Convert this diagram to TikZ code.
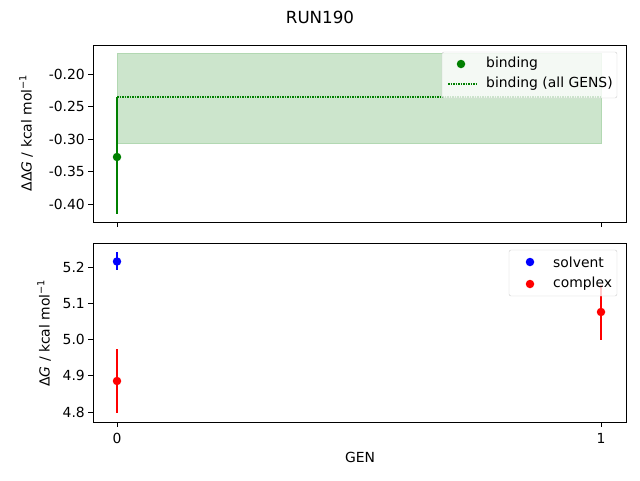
\documentclass[tikz,border=0pt]{standalone}
\usepackage{fontspec}
\setmainfont{DejaVu Sans}
\definecolor{mgreen}{RGB}{0,128,0}
\definecolor{fillg}{RGB}{204,229,204}
\definecolor{edgeg}{RGB}{178,216,178}
\begin{document}
\begin{tikzpicture}[x=1pt,y=-1pt,
  lab/.style={font=\fontsize{13.9}{16}\selectfont,inner sep=0},
  axis/.style={draw=black,line width=0.8pt},
  tick/.style={line width=0.8pt},
  eb/.style={line width=1.5pt},
  dot/.style={circle,inner sep=0,minimum size=8.5}]
\useasboundingbox (0,0) rectangle (640,480);
\node[font=\fontsize{16.7}{18}\selectfont] (title) at (320,17) {RUN190};
% top axes
\fill[fillg] (117,53) rectangle (601,143);
\draw[edgeg] (117,53) rectangle (601,143);
\draw[mgreen,densely dotted,line width=1.5pt] (117,97) -- (601,97);
\draw[mgreen,eb] (117,97) -- (117,214);
\node[dot,fill=mgreen] (g0) at (117,157) {};
\draw[axis] (93,45) rectangle (626,222);
\foreach \v/\y in {-0.20/74,-0.25/106.5,-0.30/139,-0.35/171.5,-0.40/204}{
  \draw[tick] (93,\y) -- (88,\y);
  \node[lab,anchor=east] at (85,\y) {\v};}
\draw[tick] (117,222) -- (117,227);
\draw[tick] (601,222) -- (601,227);
\node[lab,rotate=90] (yl1) at (26,133) {ΔΔ\textit{G} / kcal mol\textsuperscript{−1}};
% top legend
\draw[draw=black!20,fill=white,fill opacity=0.8,rounded corners=2] (442,52) rectangle (617,98);
\node[dot,fill=mgreen] (lg1) at (461,64) {};
\node[lab,anchor=west] at (486,64) {binding};
\draw[mgreen,densely dotted,line width=1.5pt] (448,84) -- (476,84);
\node[lab,anchor=west] at (486,84) {binding (all GENS)};
% bottom axes
\draw[blue,eb] (117,252) -- (117,270);
\node[dot,fill=blue] (b0) at (117,261.5) {};
\draw[red,eb] (117,349) -- (117,413);
\node[dot,fill=red] (r0) at (117,381) {};
\draw[red,eb] (601,285) -- (601,340);
\node[dot,fill=red] (r1) at (601,312) {};
\draw[axis] (93,243) rectangle (626,422);
\foreach \v/\y in {5.2/267,5.1/303.25,5.0/339.5,4.9/375.75,4.8/412}{
  \draw[tick] (93,\y) -- (88,\y);
  \node[lab,anchor=east] at (85,\y) {\v};}
\draw[tick] (117,422) -- (117,427);
\draw[tick] (601,422) -- (601,427);
\node[lab] at (117,438) {0};
\node[lab] at (601,438) {1};
\node[lab] (xl) at (360,457) {GEN};
\node[lab,rotate=90] (yl2) at (44,333) {Δ\textit{G} / kcal mol\textsuperscript{−1}};
% bottom legend
\draw[draw=black!20,fill=white,fill opacity=0.8,rounded corners=2] (509,250) rectangle (617,296);
\node[dot,fill=blue] at (530,262) {};
\node[lab,anchor=west] at (553,262) {solvent};
\node[dot,fill=red] at (530,284) {};
\node[lab,anchor=west] at (553,284) {complex};
\end{tikzpicture}
\end{document}
